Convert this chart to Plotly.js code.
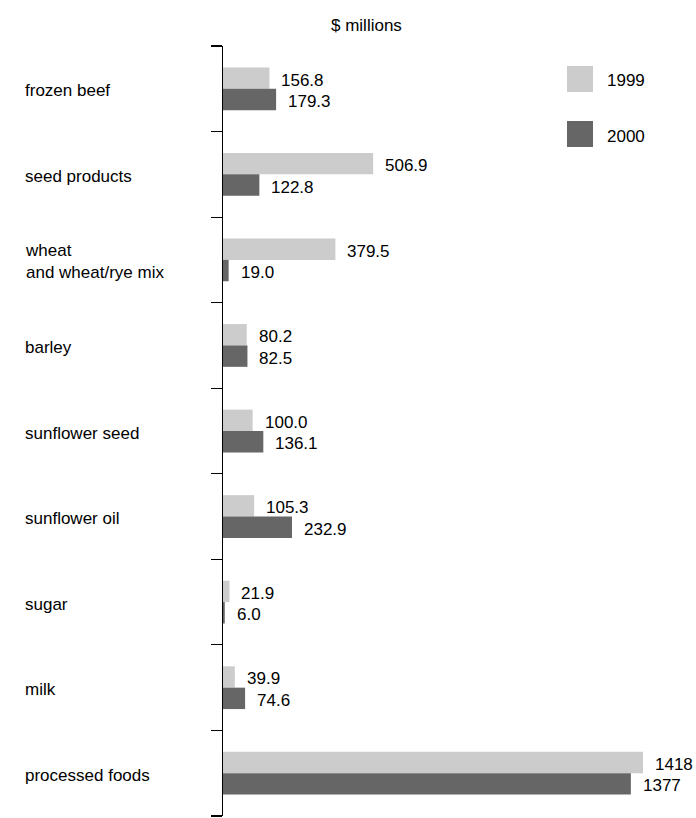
<!DOCTYPE html>
<html>
<head>
<meta charset="utf-8">
<script src="https://cdn.plot.ly/plotly-3.0.1.min.js"></script>
<style>html,body{margin:0;padding:0;background:#fff;}</style>
</head>
<body>
<div id="chart" style="width:696px;height:818px;"></div>
<script>
const categories = ["frozen beef", "seed products", "wheat<br>and wheat/rye mix", "barley", "sunflower seed", "sunflower oil", "sugar", "milk", "processed foods"];
const seriesNames = ["1999", "2000"];
const values1999 = [156.8, 506.9, 379.5, 80.2, 100.0, 105.3, 21.9, 39.9, 1418];
const values2000 = [179.3, 122.8, 19.0, 82.5, 136.1, 232.9, 6.0, 74.6, 1377];
const labels1999 = ["156.8", "506.9", "379.5", "80.2", "100.0", "105.3", "21.9", "39.9", "1418"];
const labels2000 = ["179.3", "122.8", "19.0", "82.5", "136.1", "232.9", "6.0", "74.6", "1377"];
const unitLabel = "$ millions";

const colors = ["#cccccc", "#666666"];
const font = "Liberation Sans, Arial, Helvetica, sans-serif";
const fs = 17;
const ys = -2;
const idx = categories.map((c, i) => i);

const traces = [
  {type: "bar", orientation: "h", name: seriesNames[0], x: values1999, y: idx,
   marker: {color: colors[0], line: {width: 0}}, hoverinfo: "none"},
  {type: "bar", orientation: "h", name: seriesNames[1], x: values2000, y: idx,
   marker: {color: colors[1], line: {width: 0}}, hoverinfo: "none"}
];

const annotations = [];
const plotW = 420, marginL = 223;
categories.forEach((c, i) => {
  annotations.push({xref: "paper", yref: "y", x: (23 - marginL) / plotW, y: i, xanchor: "left", yanchor: "middle",
    yshift: ys, align: "left", text: c, showarrow: false, font: {family: font, size: fs, color: "#000"}});
  annotations.push({xref: "x", yref: "y", x: values1999[i], y: i - 0.125, xanchor: "left", yanchor: "middle",
    xshift: 10, yshift: ys, text: labels1999[i], showarrow: false, font: {family: font, size: fs, color: "#000"}});
  annotations.push({xref: "x", yref: "y", x: values2000[i], y: i + 0.125, xanchor: "left", yanchor: "middle",
    xshift: 10, yshift: ys, text: labels2000[i], showarrow: false, font: {family: font, size: fs, color: "#000"}});
});
annotations.push({xref: "paper", yref: "paper", x: (366 - marginL) / plotW, y: 1 - (23 - 46) / 770,
  xanchor: "center", yanchor: "middle", yshift: ys, text: unitLabel, showarrow: false, font: {family: font, size: fs, color: "#000"}});

function py(p) { return 1 - (p - 46) / 770; }
function px(p) { return (p - marginL) / plotW; }
const shapes = [
  {type: "rect", xref: "paper", yref: "paper", x0: px(567), x1: px(593), y0: py(92), y1: py(66), fillcolor: colors[0], line: {width: 0}},
  {type: "rect", xref: "paper", yref: "paper", x0: px(567), x1: px(593), y0: py(147), y1: py(121), fillcolor: colors[1], line: {width: 0}}
];
annotations.push({xref: "paper", yref: "paper", x: px(605), y: py(79), xanchor: "left", yanchor: "middle", yshift: ys,
  text: seriesNames[0], showarrow: false, font: {family: font, size: fs, color: "#000"}});
annotations.push({xref: "paper", yref: "paper", x: px(605), y: py(134), xanchor: "left", yanchor: "middle", yshift: ys,
  text: seriesNames[1], showarrow: false, font: {family: font, size: fs, color: "#000"}});

const tickvals = [];
for (let i = 0; i <= categories.length; i++) tickvals.push(i - 0.5);

const layout = {
  width: 696, height: 818,
  margin: {l: 223, r: 53, t: 46, b: 2},
  paper_bgcolor: "#fff", plot_bgcolor: "#fff",
  barmode: "group", bargap: 0.5, bargroupgap: 0,
  showlegend: false,
  font: {family: font, size: fs, color: "#000"},
  xaxis: {range: [0, 1418], visible: false, fixedrange: true},
  yaxis: {range: [categories.length - 0.5, -0.5], tickmode: "array", tickvals: tickvals, showticklabels: false,
    ticks: "outside", ticklen: 11, tickwidth: 1.2, tickcolor: "#000",
    showline: true, linecolor: "#000", linewidth: 1.2, showgrid: false, zeroline: false, fixedrange: true},
  annotations: annotations,
  shapes: shapes
};

Plotly.newPlot("chart", traces, layout, {displayModeBar: false, staticPlot: true});
</script>
</body>
</html>
